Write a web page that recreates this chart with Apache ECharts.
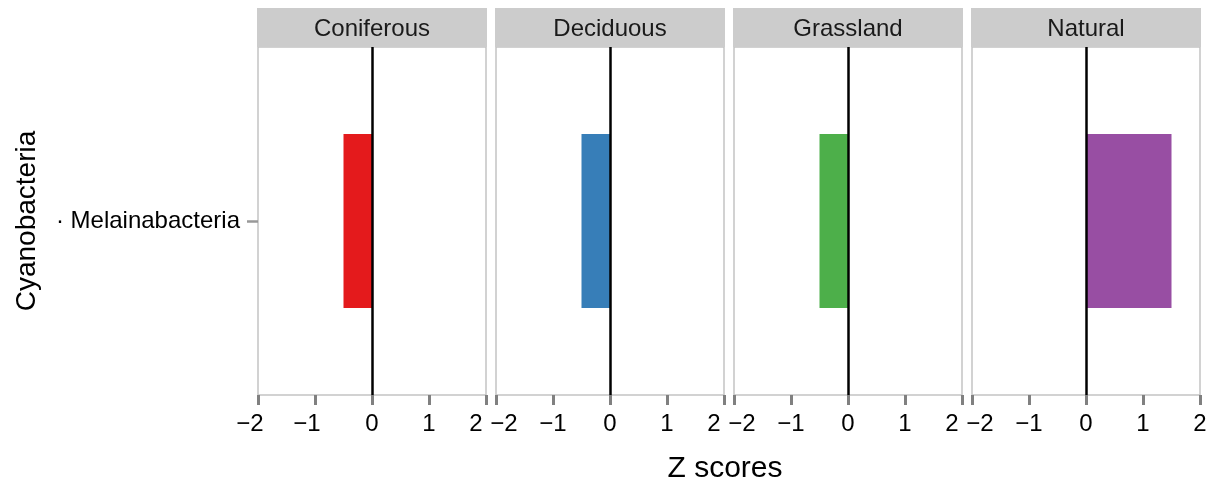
<!DOCTYPE html>
<html>
<head>
<meta charset="utf-8">
<script src="https://cdn.jsdelivr.net/npm/echarts@6/dist/echarts.min.js"></script>
<style>
  html, body { margin: 0; padding: 0; background: #fff; }
  #chart { width: 1212px; height: 488px; }
</style>
</head>
<body>
<div id="chart"></div>
<script>
// Facet panels (land-use types) and the single taxon row
const panels = ['Coniferous', 'Deciduous', 'Grassland', 'Natural'];
const taxa = ['\u00B7 Melainabacteria'];

// Z scores per panel, one value per taxon
const coniferous = [-0.5];
const deciduous = [-0.5];
const grassland = [-0.5];
const natural = [1.5];
const panelValues = [coniferous, deciduous, grassland, natural];

// x axis range and tick step
const xMin = -2;
const xMax = 2;
const xStep = 1;

const panelColors = ['#E41A1C', '#377EB8', '#4DAF4A', '#984EA3'];

const FONT = '"Liberation Sans", Arial, Helvetica, sans-serif';
const panelLeft = 258, panelGap = 10, panelWidth = 228;
const panelTop = 47, panelHeight = 348;
const stripTop = 8;

// nudges tick labels at the panel edges so neighbouring labels don't collide
function tickStyleKey(v, i) {
  if (i === 0 && (v === -2 || v === -1)) return 'left';
  if (v === 2 && i < panels.length - 1) return 'leftMore';
  if (v === -2 && i > 0) return 'right';
  return 'plain';
}
const tickRich = {
  plain: {},
  left: { padding: [0, 16, 0, 0] },
  leftMore: { padding: [0, 20, 0, 0] },
  right: { padding: [0, 0, 0, 16] }
};

const grids = [], xAxes = [], yAxes = [], series = [], graphics = [];

panels.forEach((name, i) => {
  const left = panelLeft + i * (panelWidth + panelGap);
  grids.push({
    left: left, top: panelTop, width: panelWidth, height: panelHeight,
    show: true, borderColor: '#c4c4c4', borderWidth: 1.5, backgroundColor: '#fff'
  });
  xAxes.push({
    type: 'value', gridIndex: i, min: xMin, max: xMax, interval: xStep,
    axisLine: { show: false, onZero: false },
    axisTick: { show: true, length: 10, lineStyle: { color: '#808080', width: 3 } },
    splitLine: { show: false },
    axisLabel: {
      color: '#000', fontSize: 24, fontFamily: FONT, margin: 17,
      showMinLabel: true, showMaxLabel: true,
      rich: tickRich,
      formatter: v => '{' + tickStyleKey(v, i) + '|' + String(v).replace('-', '\u2212') + '}'
    }
  });
  yAxes.push({
    type: 'category', gridIndex: i, data: taxa,
    axisLine: { show: false, onZero: false },
    axisTick: { show: i === 0, alignWithLabel: true, length: 11, lineStyle: { color: '#999', width: 2.5 } },
    axisLabel: { show: i === 0, color: '#000', fontSize: 24, fontFamily: FONT, margin: 18 },
    splitLine: { show: false }
  });
  series.push({
    type: 'bar', xAxisIndex: i, yAxisIndex: i,
    data: panelValues[i], barWidth: '50%',
    itemStyle: { color: panelColors[i] },
    silent: true,
    markLine: {
      silent: true, symbol: 'none', animation: false,
      label: { show: false },
      lineStyle: { color: '#000', width: 2.5, type: 'solid' },
      data: [{ xAxis: 0 }]
    }
  });
  // facet strip
  graphics.push({
    type: 'rect', left: left - 1, top: stripTop,
    shape: { width: panelWidth + 2, height: panelTop - stripTop },
    style: { fill: '#cccccc' }, z: 10
  });
  graphics.push({
    type: 'text', x: left + panelWidth / 2, y: 29,
    style: { text: name, fill: '#1a1a1a', font: '24px ' + FONT, align: 'center', verticalAlign: 'middle' },
    z: 11
  });
});

// axis titles
graphics.push({
  type: 'text', x: 725, y: 469,
  style: { text: 'Z scores', fill: '#000', font: '30px ' + FONT, align: 'center', verticalAlign: 'middle' }
});
graphics.push({
  type: 'text', x: 27, y: 221, rotation: Math.PI / 2,
  style: { text: 'Cyanobacteria', fill: '#000', font: '28px ' + FONT, align: 'center', verticalAlign: 'middle' }
});

const chart = echarts.init(document.getElementById('chart'), null, { renderer: 'canvas' });
chart.setOption({
  animation: false,
  backgroundColor: '#fff',
  grid: grids,
  xAxis: xAxes,
  yAxis: yAxes,
  series: series,
  graphic: graphics
});
</script>
</body>
</html>
